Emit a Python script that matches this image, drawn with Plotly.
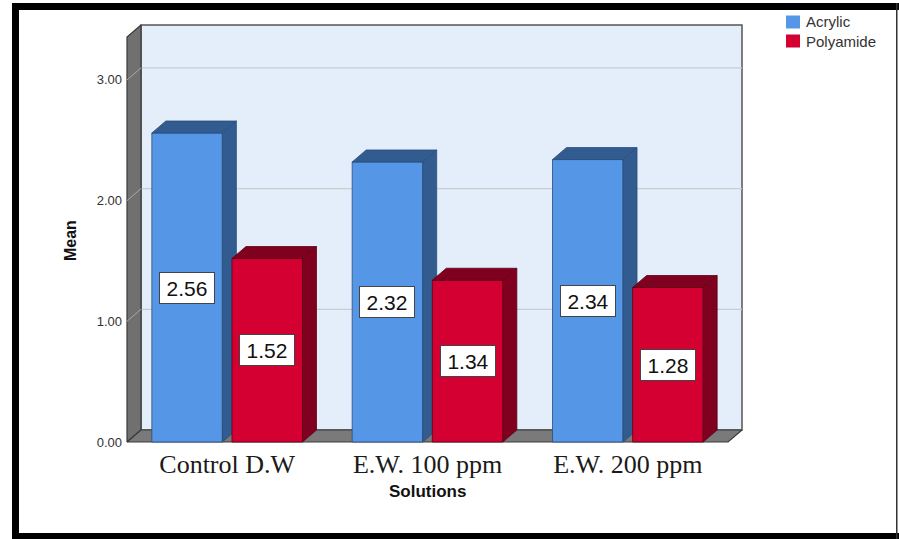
import plotly.graph_objects as go

# ---------------- data ----------------
categories = ["Control D.W", "E.W. 100 ppm", "E.W. 200 ppm"]
acrylic = [2.56, 2.32, 2.34]
polyamide = [1.52, 1.34, 1.28]
series_names = ["Acrylic", "Polyamide"]
y_tick_values = [0, 1, 2, 3]
y_tick_labels = ["0.00", "1.00", "2.00", "3.00"]

# ---------------- geometry / style ----------------
W, H = 899, 539
L, R, T, B = 123, 153, 21, 93
PW, PH = W - L - R, H - T - B
PXX = 601 / 3.0          # px per category unit (front plane)
PXY = 120.7              # px per value unit (front plane)
PAD = 4
X0 = -0.5 - PAD / PXX
X1 = X0 + PW / PXX
Y0 = -PAD / PXY
Y1 = Y0 + PH / PXY
DX = 14 / PXX            # depth offset in x (data units)
DY = 12 / PXY            # depth offset in y (data units)
YTOP = (442 - 37) / PXY  # top of the walls on the front plane
XL, XR = -0.5, 2.5       # wall extents on front plane
HW = 0.176               # half bar width
OFFS = [-0.2, 0.2]

front_cols = ["#5597e6", "#d50032"]
dark_cols = ["#325c90", "#80001f"]
edge_cols = ["#2a4c78", "#5e0016"]
FONT = "Liberation Sans, Arial"


def polys(list_of_pts):
    xs, ys = [], []
    for pts in list_of_pts:
        for (x, y) in pts + [pts[0]]:
            xs.append(x)
            ys.append(y)
        xs.append(None)
        ys.append(None)
    return xs, ys


def poly_trace(pts_list, fill, line, width=1.0):
    xs, ys = polys(pts_list)
    return go.Scatter(x=xs, y=ys, mode="lines", fill="toself", fillcolor=fill,
                      line=dict(color=line, width=width), hoverinfo="skip",
                      showlegend=False)


def px_x(px):
    return (px - L) / PW


def px_y(py):
    return 1 - (py - T) / PH


fig = go.Figure()

# back wall
fig.add_trace(poly_trace([[(XL + DX, DY), (XR + DX, DY), (XR + DX, YTOP + DY), (XL + DX, YTOP + DY)]],
                         "#e3eefa", "#555555", 1.5))
# gridlines on back wall
gx, gy, lx, ly = [], [], [], []
for t in y_tick_values[1:]:
    gx += [XL + DX, XR + DX, None]
    gy += [t + DY, t + DY, None]
fig.add_trace(go.Scatter(x=gx, y=gy, mode="lines", line=dict(color="#c9ccd0", width=1.2),
                         hoverinfo="skip", showlegend=False))
# left wall
fig.add_trace(poly_trace([[(XL, 0), (XL + DX, DY), (XL + DX, YTOP + DY), (XL, YTOP)]],
                         "#707070", "#3a3a3a", 1.2))
for t in y_tick_values[1:]:
    lx += [XL, XL + DX, None]
    ly += [t, t + DY, None]
fig.add_trace(go.Scatter(x=lx, y=ly, mode="lines", line=dict(color="#a8a8a8", width=1),
                         hoverinfo="skip", showlegend=False))
# floor
fig.add_trace(poly_trace([[(XL, 0), (XR, 0), (XR + DX, DY), (XL + DX, DY)]],
                         "#7a7a7a", "#3a3a3a", 1.2))

# bars
for s, vals in enumerate([acrylic, polyamide]):
    fronts, tops, sides = [], [], []
    for i, v in enumerate(vals):
        xl = i + OFFS[s] - HW
        xr = i + OFFS[s] + HW
        fronts.append([(xl, 0), (xr, 0), (xr, v), (xl, v)])
        tops.append([(xl, v), (xr, v), (xr + DX, v + DY), (xl + DX, v + DY)])
        sides.append([(xr, 0), (xr + DX, DY), (xr + DX, v + DY), (xr, v)])
    fig.add_trace(poly_trace(fronts, front_cols[s], edge_cols[s], 0.8))
    fig.add_trace(poly_trace(tops, dark_cols[s], edge_cols[s], 0.8))
    fig.add_trace(poly_trace(sides, dark_cols[s], edge_cols[s], 0.8))

# value labels
annotations = []
for s, vals in enumerate([acrylic, polyamide]):
    for i, v in enumerate(vals):
        annotations.append(dict(x=i + OFFS[s], y=v / 2, xref="x", yref="y", text=f"{v:.2f}",
                                showarrow=False, font=dict(family=FONT, size=21, color="#111"),
                                bgcolor="white", bordercolor="#444", borderwidth=1, borderpad=2,
                                width=50, height=26, xanchor="center", yanchor="middle"))

annotations.append(dict(x=px_x(70), y=px_y(241), xref="paper", yref="paper", text="<b>Mean</b>",
                        textangle=-90, showarrow=False, xanchor="center", yanchor="middle",
                        font=dict(family=FONT, size=16, color="#111")))
annotations.append(dict(x=1, y=px_y(492), xref="x", yref="paper", text="<b>Solutions</b>",
                        showarrow=False, xanchor="center", yanchor="middle",
                        font=dict(family=FONT, size=17, color="#111")))

shapes = []

# manual legend
legend_rows = [22, 41]
for s, name in enumerate(series_names):
    yc = legend_rows[s]
    shapes.append(dict(type="rect", xref="paper", yref="paper", x0=px_x(786), x1=px_x(800),
                       y0=px_y(yc + 6.5), y1=px_y(yc - 6.5), fillcolor=front_cols[s],
                       line=dict(width=0)))
    annotations.append(dict(x=px_x(804), y=px_y(yc), xref="paper", yref="paper", text=name,
                            showarrow=False, xanchor="left", yanchor="middle",
                            font=dict(family=FONT, size=15, color="#333")))


# outer frame
def rect(x0, y0, x1, y1, color):
    shapes.append(dict(type="rect", xref="paper", yref="paper", x0=px_x(x0), x1=px_x(x1),
                       y0=px_y(y1), y1=px_y(y0), fillcolor=color, line=dict(width=0), layer="above"))


rect(12, 3, 899, 10, "black")
rect(12, 3, 19, 539, "black")
rect(12, 533, 899, 539, "black")
rect(896, 3, 897.5, 539, "#333333")

fig.update_layout(
    width=W, height=H,
    margin=dict(l=L, r=R, t=T, b=B),
    paper_bgcolor="white", plot_bgcolor="rgba(0,0,0,0)",
    xaxis=dict(range=[X0, X1], tickvals=[0, 1, 2], ticktext=categories, showgrid=False,
               zeroline=False, showline=False, ticks="",
               tickfont=dict(family="Liberation Serif, Times New Roman", size=26, color="#1a1a1a")),
    yaxis=dict(range=[Y0, Y1], tickvals=y_tick_values, ticktext=y_tick_labels, showgrid=False,
               zeroline=False, showline=False, ticks="",
               tickfont=dict(family=FONT, size=13, color="#333")),
    showlegend=False,
    annotations=annotations,
    shapes=shapes,
)

fig.write_html("out.html", config={"displayModeBar": False},
               post_script="document.body.style.margin='0';document.body.style.padding='0';")
